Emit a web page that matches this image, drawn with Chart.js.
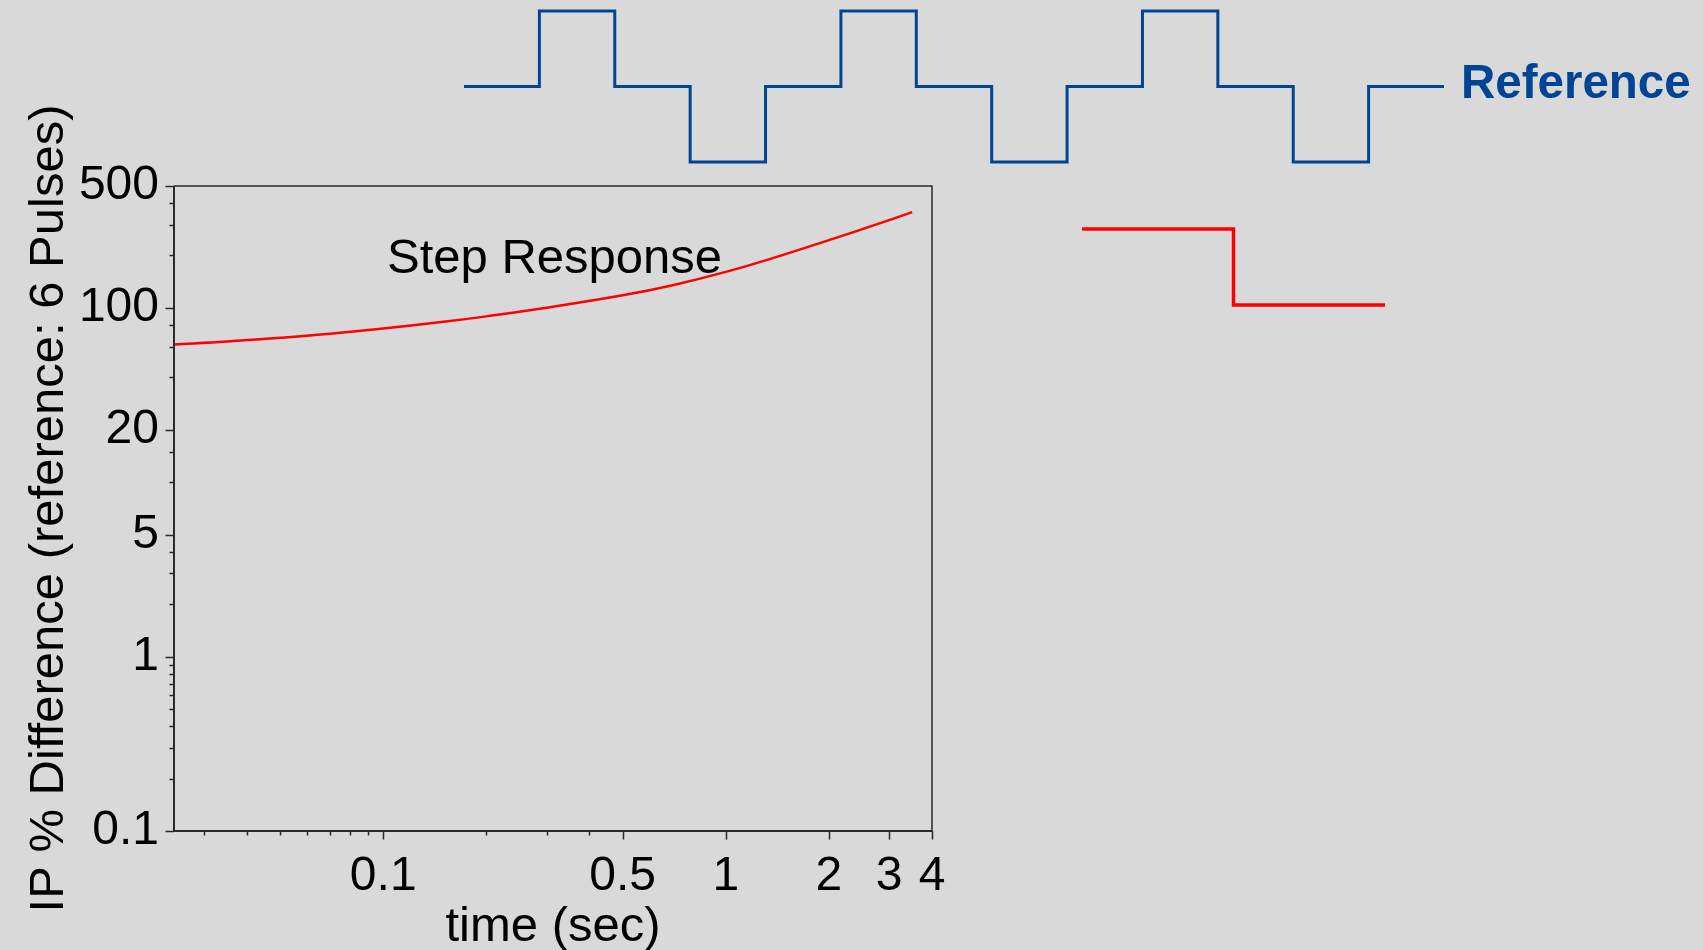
<!DOCTYPE html>
<html>
<head>
<meta charset="utf-8">
<title>Step Response</title>
<script src="https://cdn.jsdelivr.net/npm/chart.js@4/dist/chart.umd.min.js"></script>
<style>
  html, body { margin: 0; padding: 0; width: 1703px; height: 950px; overflow: hidden; background: #d9d9d9; }
  .box { position: absolute; }
</style>
</head>
<body>
<div class="box" style="left:0;top:0;width:1703px;height:950px"><canvas id="main"></canvas></div>
<div class="box" style="left:458px;top:5px;width:992px;height:163px"><canvas id="wave"></canvas></div>
<div class="box" style="left:1076px;top:223px;width:315px;height:88px"><canvas id="step"></canvas></div>
<script>
// Step response: IP % difference against time
const timeSec = [0.0245, 0.035, 0.05, 0.07, 0.1, 0.15, 0.2, 0.3, 0.5, 0.7, 1.0, 1.4, 2.0, 2.7, 3.5];
const ipDiff  = [61.7, 64.1, 67.4, 71.1, 76.1, 83.2, 89.4, 100.2, 118, 134.9, 160.8, 195.4, 244.7, 297.2, 353.9];

// axis ticks
const xMajorTicks = [0.1, 0.5, 1, 2, 3, 4];
const xMinorTicks = [0.03, 0.04, 0.05, 0.06, 0.07, 0.08, 0.09, 0.2, 0.3, 0.4];
const yMajorTicks = [0.1, 1, 5, 20, 100, 500];
const yMinorTicks = [0.2, 0.3, 0.4, 0.5, 0.6, 0.7, 0.8, 0.9, 2, 3, 4, 10, 15, 40, 60, 80, 200, 300, 400];

// pulse trains: one level per segment
const referenceLevels = [0, 1, 0, -1, 0, 1, 0, -1, 0, 1, 0, -1, 0];
const stepLevels = [1, 0];

const FONT = "'Liberation Sans', Arial, Helvetica, sans-serif";
Chart.defaults.font.family = FONT;
Chart.defaults.color = '#000';

function tickList(major, minor) {
  return major.concat(minor).sort((a, b) => a - b)
    .map(v => ({ value: v, major: major.includes(v) }));
}

function segmentsToPoints(levels) {
  const pts = levels.map((v, i) => ({ x: i, y: v }));
  pts.push({ x: levels.length, y: levels[levels.length - 1] });
  return pts;
}

// frame, tick marks and captions
const frameAndTicks = {
  id: 'frameAndTicks',
  afterDraw(chart) {
    const { ctx, chartArea: a, scales: { x, y } } = chart;
    ctx.save();
    ctx.strokeStyle = '#2a2a2a';
    ctx.lineCap = 'butt';
    // top and right border
    ctx.lineWidth = 1.5;
    ctx.beginPath();
    ctx.moveTo(a.left, a.top); ctx.lineTo(a.right, a.top); ctx.lineTo(a.right, a.bottom);
    ctx.stroke();
    // left and bottom axes
    ctx.lineWidth = 2;
    ctx.beginPath();
    ctx.moveTo(a.left, a.top); ctx.lineTo(a.left, a.bottom); ctx.lineTo(a.right, a.bottom);
    ctx.stroke();
    // tick marks
    ctx.lineWidth = 1.5;
    ctx.beginPath();
    for (const t of y.ticks) {
      const py = Math.round(y.getPixelForValue(t.value)) + 0.5;
      const len = t.major ? 8.5 : 4.5;
      ctx.moveTo(a.left - len, py); ctx.lineTo(a.left, py);
    }
    for (const t of x.ticks) {
      const px = Math.round(x.getPixelForValue(t.value)) + 0.5;
      const len = t.major ? 8.5 : 4.5;
      ctx.moveTo(px, a.bottom); ctx.lineTo(px, a.bottom + len);
    }
    ctx.stroke();
    // captions
    ctx.textBaseline = 'alphabetic';
    ctx.textAlign = 'left';
    ctx.fillStyle = '#000';
    ctx.font = '49px ' + FONT;
    ctx.fillText('Step Response', a.left + 213, a.top + 87);
    ctx.fillStyle = '#004595';
    ctx.font = 'bold 47.5px ' + FONT;
    ctx.fillText('Reference', 1461, 98);
    ctx.restore();
  }
};

new Chart(document.getElementById('main'), {
  type: 'scatter',
  data: {
    datasets: [{
      data: timeSec.map((t, i) => ({ x: t, y: ipDiff[i] })),
      showLine: true,
      borderColor: '#ff0000',
      borderWidth: 2.5,
      pointRadius: 0,
      tension: 0.4
    }]
  },
  options: {
    animation: false,
    responsive: true,
    maintainAspectRatio: false,
    devicePixelRatio: 1,
    layout: { padding: { left: 0, top: 186, right: 771, bottom: 0 } },
    plugins: { legend: { display: false }, tooltip: { enabled: false } },
    scales: {
      x: {
        type: 'logarithmic',
        position: 'bottom',
        min: 0.0245,
        max: 4,
        afterFit(s) { s.height = 119; },
        afterBuildTicks(s) { s.ticks = tickList(xMajorTicks, xMinorTicks); },
        grid: { display: false, drawTicks: false },
        border: { display: false },
        ticks: {
          autoSkip: false, maxRotation: 0, padding: 17,
          font: { size: 48 },
          callback: v => xMajorTicks.includes(v) ? String(v) : ''
        },
        title: { display: true, text: 'time (sec)', font: { size: 49, lineHeight: 1 }, padding: { top: 0, bottom: -2 } }
      },
      y: {
        type: 'logarithmic',
        position: 'left',
        min: 0.1,
        max: 500,
        afterFit(s) { s.width = 174; },
        afterBuildTicks(s) { s.ticks = tickList(yMajorTicks, yMinorTicks); },
        grid: { display: false, drawTicks: false },
        border: { display: false },
        ticks: {
          autoSkip: false, padding: 15,
          font: { size: 48 },
          callback: v => yMajorTicks.includes(v) ? String(v) : ''
        },
        title: { display: true, text: 'IP % Difference (reference: 6 Pulses)', font: { size: 49 }, padding: { top: 20, bottom: 0 } }
      }
    }
  },
  plugins: [frameAndTicks]
});

function pulseChart(id, levels, color, width, yMin, yMax) {
  return new Chart(document.getElementById(id), {
    type: 'scatter',
    data: {
      datasets: [{
        data: segmentsToPoints(levels),
        showLine: true,
        stepped: 'before',
        borderColor: color,
        borderWidth: width,
        borderJoinStyle: 'miter',
        borderCapStyle: 'butt',
        pointRadius: 0,
        clip: false
      }]
    },
    options: {
      animation: false,
      responsive: true,
      maintainAspectRatio: false,
      devicePixelRatio: 1,
      layout: { padding: 6 },
      plugins: { legend: { display: false }, tooltip: { enabled: false } },
      scales: {
        x: { type: 'linear', min: 0, max: levels.length, display: false },
        y: { type: 'linear', min: yMin, max: yMax, display: false }
      }
    }
  });
}

pulseChart('wave', referenceLevels, '#004595', 3, -1, 1);
pulseChart('step', stepLevels, '#ff0000', 3.5, 0, 1);
</script>
</body>
</html>
